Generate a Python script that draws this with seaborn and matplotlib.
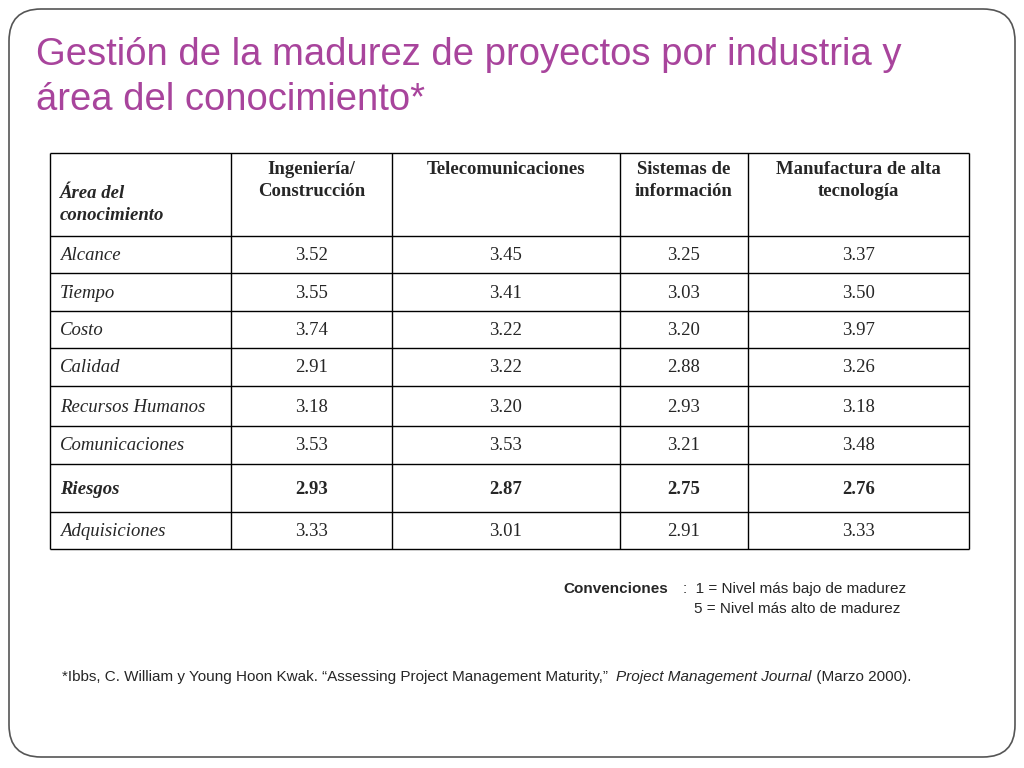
import matplotlib
matplotlib.use("Agg")
import matplotlib.pyplot as plt
from matplotlib.patches import FancyBboxPatch
import seaborn as sns

# Data
areas = ["Alcance", "Tiempo", "Costo", "Calidad", "Recursos Humanos",
         "Comunicaciones", "Riesgos", "Adquisiciones"]
headers = ["Ingeniería/\nConstrucción", "Telecomunicaciones",
           "Sistemas de\ninformación", "Manufactura de alta\ntecnología"]
ingenieria = ["3.52", "3.55", "3.74", "2.91", "3.18", "3.53", "2.93", "3.33"]
telecom = ["3.45", "3.41", "3.22", "3.22", "3.20", "3.53", "2.87", "3.01"]
sistemas = ["3.25", "3.03", "3.20", "2.88", "2.93", "3.21", "2.75", "2.91"]
manufactura = ["3.37", "3.50", "3.97", "3.26", "3.18", "3.48", "2.76", "3.33"]
bold_row = "Riesgos"

# Layout (pixels)
col_edges = [50, 231, 392, 620, 748, 969]
row_edges = [153, 236, 273, 311, 348, 386, 426, 464, 512, 549]

sns.set_theme(style="white")
fig = plt.figure(figsize=(10.24, 7.68), dpi=100)
ax = fig.add_axes([0, 0, 1, 1])
ax.set_xlim(0, 1024)
ax.set_ylim(768, 0)
ax.axis("off")

ax.add_patch(FancyBboxPatch((9, 9), 1006, 748, boxstyle="round,pad=0,rounding_size=32",
                            fill=False, edgecolor="#555555", linewidth=1.2))

title_color = "#a8449c"
ax.text(36, 55, "Gestión de la madurez de proyectos por industria y",
        fontsize=27.5, color=title_color, family="Liberation Sans", va="center")
ax.text(36, 100, "área del conocimiento*",
        fontsize=27.5, color=title_color, family="Liberation Sans", va="center")

# grid
for y in row_edges:
    ax.hlines(y, col_edges[0], col_edges[-1], color="black", linewidth=1)
for x in col_edges:
    ax.vlines(x, row_edges[0], row_edges[-1], color="black", linewidth=1)

serif = "Liberation Serif"
fs = 13.5
ax.text(60, 185, "Área del\nconocimiento", fontsize=fs, family=serif, style="italic",
        weight="bold", va="top", linespacing=1.4)
for i, h in enumerate(headers):
    cx = (col_edges[i + 1] + col_edges[i + 2]) / 2
    ax.text(cx, 161, h, fontsize=fs, family=serif, weight="bold", ha="center",
            va="top", linespacing=1.4)

columns = [ingenieria, telecom, sistemas, manufactura]
for r, area in enumerate(areas):
    cy = (row_edges[r + 1] + row_edges[r + 2]) / 2 + 1
    w = "bold" if area == bold_row else "normal"
    ax.text(60, cy, area, fontsize=fs, family=serif, style="italic", weight=w, va="center")
    for c, col in enumerate(columns):
        cx = (col_edges[c + 1] + col_edges[c + 2]) / 2
        ax.text(cx, cy, col[r], fontsize=fs, family=serif, weight=w, ha="center",
                va="center")

sans = "Liberation Sans"
fs2 = 11
ax.text(563, 589, "Convenciones", fontsize=fs2, family=sans, weight="bold", va="center")
ax.text(683, 589, ":  1 = Nivel más bajo de madurez", fontsize=fs2, family=sans, va="center")
ax.text(694, 609, "5 = Nivel más alto de madurez", fontsize=fs2, family=sans, va="center")

# footnote pieces chained one after another
renderer = fig.canvas.get_renderer()
pieces = [("*Ibbs, C. William y Young Hoon Kwak. “Assessing Project Management Maturity,” ", "normal"),
          ("Project Management Journal", "italic"),
          (" (Marzo 2000).", "normal")]
x = 62
for txt, st in pieces:
    t = ax.text(x, 677, txt, fontsize=fs2, family=sans, style=st, va="center")
    bb = t.get_window_extent(renderer)
    x += bb.width + (4 if txt.endswith(" ") else 0)

fig.savefig("out.png", dpi=100)
